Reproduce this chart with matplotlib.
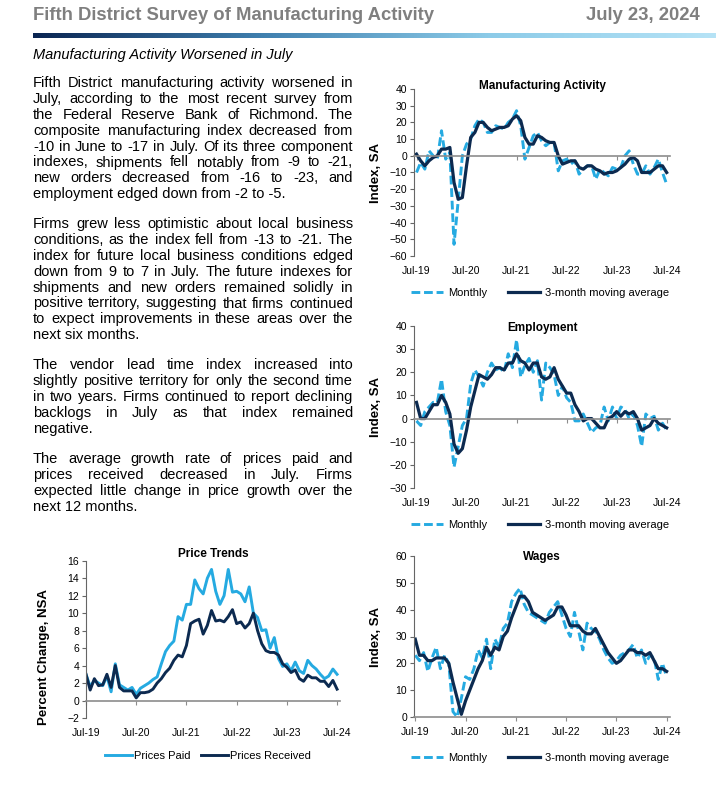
import numpy as np
import matplotlib
matplotlib.use('Agg')
import matplotlib.pyplot as plt
import matplotlib.transforms as mtransforms
from matplotlib.colors import LinearSegmentedColormap
from matplotlib.lines import Line2D

plt.rcParams['font.family'] = ['Liberation Sans', 'DejaVu Sans']

##########
#  Data  #
##########

# months from Jul-19 (0) to Jul-24 (60)
months = np.arange(61)
tick_pos = [0, 12, 24, 36, 48, 60]
tick_labels = ['Jul-19', 'Jul-20', 'Jul-21', 'Jul-22', 'Jul-23', 'Jul-24']

mfg_monthly = [-10, -4, -8, 3, 0, -2, 15, -2, 2, -53, -27, 0, 7, 10, 18, 22, 20, 14, 14, 18,
               17, 16, 20, 22, 27, 18, -2, 5, 12, 14, 9, 6, 8, 8, -9, -3, -2, -5, -3, -11,
               -8, -6, -6, -14, -8, -10, -12, -7, -8, -7, 0, 3, -5, -11, -11, -6, -11, -7, -2, -10,
               -17]
mfg_ma = [1, -3, -6, -3, -1, 0, 4, 4, 5, -16, -26, -25, -6, 11, 14, 20, 20, 17, 15, 16,
          17, 17, 18, 22, 24, 21, 11, 7, 7, 12, 11, 9, 8, 8, 0, -5, -4, -3, -3, -7,
          -8, -6, -6, -8, -9, -11, -10, -10, -9, -7, -5, -2, -1, -3, -10, -10, -10, -8, -6, -6,
          -10]

emp_monthly = [-1, -3, 3, 5, 7, 7, 17, 3, -3, -21, -12, -3, 0, 15, 21, 18, 14, 20, 24, 21,
               22, 20, 28, 22, 34, 18, 23, 26, 20, 25, 8, 24, 22, 19, 10, 14, 9, 7, -1, -1,
               2, -2, -6, -4, -3, 5, -1, 5, 0, 5, 4, 0, 2, -3, -12, 2, 0, 1, -5, -2,
               -5]
emp_ma = [7, 0, 0, 3, 6, 6, 10, 7, 2, -11, -15, -13, -5, 5, 12, 19, 18, 17, 19, 22,
          22, 21, 24, 24, 28, 25, 24, 21, 24, 24, 18, 17, 18, 22, 17, 14, 11, 11, 6, 3,
          -1, 0, 0, -2, -4, -4, 0, 1, 3, 1, 3, 2, 3, 0, -5, -4, -3, 0, -2, -3,
          -4]

wage_monthly = [23, 21, 24, 17, 22, 26, 18, 23, 20, 2, 0, 7, 15, 14, 18, 25, 22, 29, 18, 29,
                26, 33, 35, 43, 46, 48, 42, 39, 38, 37, 36, 35, 39, 41, 43, 38, 33, 30, 39, 32,
                25, 35, 33, 32, 29, 25, 22, 20, 21, 23, 24, 25, 27, 22, 25, 20, 23, 22, 14, 20,
                15]
wage_ma = [29, 23, 23, 21, 21, 22, 22, 22, 20, 13, 7, 1, 6, 10, 14, 18, 21, 26, 23, 26,
           25, 30, 32, 37, 41, 45, 45, 43, 39, 38, 37, 36, 37, 38, 41, 41, 38, 34, 34, 34,
           32, 31, 31, 33, 30, 27, 24, 22, 20, 21, 23, 25, 25, 24, 24, 23, 24, 21, 18, 18,
           17]

prices_paid = [3.0, 1.6, 2.3, 2.0, 1.7, 2.8, 1.0, 4.2, 1.8, 1.5, 1.2, 1.5, 0.7, 1.4, 1.7, 2.0,
               2.4, 2.7, 4.2, 5.6, 6.3, 6.8, 9.6, 9.2, 11.0, 11.0, 13.8, 12.8, 12.2, 14.0, 15.0,
               12.5, 11.0, 12.0, 15.0, 12.4, 12.5, 12.2, 11.3, 13.0, 10.0, 9.5, 8.0, 8.1, 6.0,
               7.2, 4.8, 3.9, 4.2, 3.4, 4.4, 3.4, 3.1, 4.6, 4.0, 3.6, 3.0, 2.5, 2.8, 3.6, 3.0]
prices_received = [3.0, 1.2, 2.5, 1.7, 1.8, 3.0, 1.5, 4.0, 1.5, 1.1, 1.1, 1.1, 0.3, 0.9, 0.9, 1.0,
                   1.3, 2.0, 2.5, 3.2, 3.7, 4.6, 5.2, 5.0, 6.3, 8.8, 9.1, 9.3, 7.6, 8.6, 10.3,
                   9.1, 9.2, 9.0, 9.6, 10.4, 8.8, 9.0, 8.3, 8.8, 10.0, 8.0, 6.5, 5.7, 5.5,
                   5.5, 5.2, 4.2, 3.8, 3.2, 3.5, 2.5, 2.2, 2.9, 2.6, 2.6, 2.2, 2.2, 1.6, 2.3, 1.3]

header_title = 'Fifth District Survey of Manufacturing Activity'
header_date = 'July 23, 2024'
subtitle = 'Manufacturing Activity Worsened in July'

paragraphs = [
    ['Fifth District manufacturing activity worsened in',
     'July, according to the most recent survey from',
     'the Federal Reserve Bank of Richmond. The',
     'composite manufacturing index decreased from',
     '-10 in June to -17 in July. Of its three component',
     'indexes, shipments fell notably from -9 to -21,',
     'new orders decreased from -16 to -23, and',
     'employment edged down from -2 to -5.'],
    ['Firms grew less optimistic about local business',
     'conditions, as the index fell from -13 to -21. The',
     'index for future local business conditions edged',
     'down from 9 to 7 in July. The future indexes for',
     'shipments and new orders remained solidly in',
     'positive territory, suggesting that firms continued',
     'to expect improvements in these areas over the',
     'next six months.'],
    ['The vendor lead time index increased into',
     'slightly positive territory for only the second time',
     'in two years. Firms continued to report declining',
     'backlogs in July as that index remained',
     'negative.'],
    ['The average growth rate of prices paid and',
     'prices received decreased in July. Firms',
     'expected little change in price growth over the',
     'next 12 months.'],
]
para_top = [87, 228, 369, 463]

##########
# Styles #
##########

W, H = 716, 785
LIGHT = '#25aae1'
NAVY = '#0c2a50'
AXIS = '#666666'
ZERO = '#8c8c8c'

fig = plt.figure(figsize=(W / 100, H / 100), dpi=100)


def fx(px):
    return px / W


def fy(py):
    return 1 - py / H


# header
fig.text(fx(33), fy(15), header_title, fontsize=13.3, fontweight='bold', color='#7f7f7f',
         va='center', ha='left')
fig.text(fx(700), fy(15), header_date, fontsize=13.3, fontweight='bold', color='#7f7f7f',
         va='center', ha='right')
bar_ax = fig.add_axes([fx(33), fy(38), fx(716 - 33), 5 / H])
cmap = LinearSegmentedColormap.from_list('hdr', ['#0a2552', '#3f7fae', '#8ccbe8', '#b6e3f6'])
bar_ax.imshow(np.linspace(0, 1, 256)[None, :], aspect='auto', cmap=cmap)
bar_ax.axis('off')
fig.text(fx(33), fy(55), subtitle, fontsize=10.5, style='italic', va='center', ha='left')

# body text, justified by hand
renderer = fig.canvas.get_renderer()
x_left, x_right = 33, 353


def text_width(s, size):
    t = fig.text(0, 0, s, fontsize=size)
    w = t.get_window_extent(renderer).width
    t.remove()
    return w


body_size = 10.5
while max(text_width(l, body_size) for p in paragraphs for l in p[:-1]) > x_right - x_left:
    body_size -= 0.1

for para, top in zip(paragraphs, para_top):
    for k, line in enumerate(para):
        y = fy(top + k * 15.9)
        if k == len(para) - 1:
            fig.text(fx(x_left), y, line, fontsize=body_size, va='baseline', ha='left')
            continue
        words = line.split(' ')
        widths = [text_width(w, body_size) for w in words]
        gap = (x_right - x_left - sum(widths)) / (len(words) - 1)
        x = x_left
        for w, wd in zip(words, widths):
            fig.text(fx(x), y, w, fontsize=body_size, va='baseline', ha='left')
            x += wd + gap


def style_axes(ax, ylim, step, xlim, title, title_y, ylabel, ylabel_x, ylabel_y=0.5):
    ax.set_xlim(*xlim)
    ax.set_ylim(*ylim)
    ax.set_yticks(np.arange(ylim[0], ylim[1] + step / 2, step))
    for s in ['top', 'right']:
        ax.spines[s].set_visible(False)
    ax.spines['left'].set_color(AXIS)
    ax.spines['left'].set_linewidth(0.8)
    ax.spines['bottom'].set_position(('data', 0))
    ax.spines['bottom'].set_color(ZERO)
    ax.spines['bottom'].set_linewidth(1.2)
    ax.set_xticks(tick_pos)
    ax.tick_params(axis='x', direction='out', length=3, color=ZERO, labelbottom=False)
    ax.tick_params(axis='y', direction='out', length=3, color=AXIS, labelsize=7.5, pad=2)
    lab_tr = mtransforms.offset_copy(ax.get_xaxis_transform(), fig=fig, y=-15, units='dots')
    for m, lab in zip(tick_pos, tick_labels):
        ax.text(m, 0, lab, transform=lab_tr, ha='center', va='center', fontsize=7.5)
    ax.text(0.5, title_y, title, transform=ax.transAxes, ha='center', va='center',
            fontsize=8.5, fontweight='bold')
    ax.set_ylabel(ylabel, fontsize=9.5, fontweight='bold')
    ax.yaxis.set_label_coords(ylabel_x, ylabel_y)
    ax.patch.set_alpha(0)


def index_chart(rect, monthly, ma, ylim, step, title, title_y, legend_y, xlim=(-0.6, 60.8)):
    ax = fig.add_axes(rect)
    ax.plot(months, monthly, color=LIGHT, lw=2.1, dashes=(3, 1.3))
    ax.plot(months, ma, color=NAVY, lw=2.3)
    style_axes(ax, ylim, step, xlim, title, title_y, 'Index, SA', -0.125)
    handles = [Line2D([], [], color=LIGHT, lw=2.1, dashes=(3, 1.3)),
               Line2D([], [], color=NAVY, lw=2.3)]
    ax.legend(handles, ['Monthly', '3-month moving average'], loc='center',
              bbox_to_anchor=(fx(540), fy(legend_y)), bbox_transform=fig.transFigure,
              ncol=2, frameon=False, fontsize=8, handlelength=2.9, handletextpad=0.5,
              columnspacing=1.8)
    return ax


index_chart([fx(414), fy(256), fx(256), (256 - 89) / H], mfg_monthly, mfg_ma,
            (-60, 40), 10, 'Manufacturing Activity', 1.015, 293)
index_chart([fx(414), fy(488), fx(256), (488 - 326) / H], emp_monthly, emp_ma,
            (-30, 40), 10, 'Employment', 0.99, 525)
index_chart([fx(414), fy(717), fx(256), (717 - 556) / H], wage_monthly, wage_ma,
            (0, 60), 10, 'Wages', 0.995, 758, xlim=(-0.3, 60.8))

# price trends
ax = fig.add_axes([fx(86), fy(718), fx(254), (718 - 560.7) / H])
ax.plot(months, prices_paid, color=LIGHT, lw=2.1)
ax.plot(months, prices_received, color=NAVY, lw=2.1)
style_axes(ax, (-2, 16), 2, (0, 60.7), 'Price Trends', 1.04, 'Percent Change, NSA', -0.14, 0.39)
ax.legend(['Prices Paid', 'Prices Received'], loc='center',
          bbox_to_anchor=(fx(208), fy(756)), bbox_transform=fig.transFigure,
          ncol=2, frameon=False, fontsize=8, handlelength=2.4, handletextpad=0.15,
          columnspacing=1.0)

fig.savefig('out.png', dpi=100)
